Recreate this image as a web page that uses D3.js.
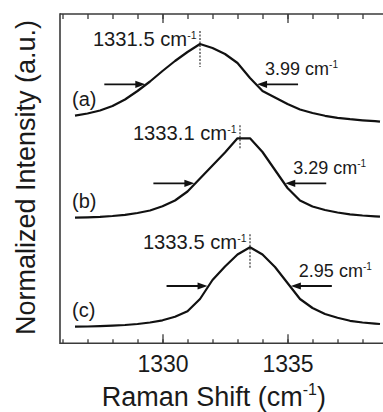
<!DOCTYPE html>
<html>
<head>
<meta charset="utf-8">
<script src="https://cdn.jsdelivr.net/npm/d3@7"></script>
<style>
  html, body { margin: 0; padding: 0; background: #fff; }
  svg { display: block; }
  text { font-family: "Liberation Sans", Arial, Helvetica, sans-serif; fill: #1a1a1a; }
</style>
</head>
<body>
<svg id="chart" width="383" height="412"></svg>
<script>
// Raman shift sampling (cm^-1)
const wavenumber = [1326.5, 1327, 1327.5, 1328, 1328.5, 1329, 1329.5, 1330, 1330.5, 1331,
  1331.5, 1332, 1332.5, 1333, 1333.5, 1334, 1334.5, 1335, 1335.5, 1336,
  1336.5, 1337, 1337.5, 1338, 1338.5, 1338.7];

// Normalized intensities, stacked with vertical offsets
const spectrumA = [2.276, 2.298, 2.328, 2.373, 2.438, 2.523, 2.618, 2.723, 2.823, 2.913,
  2.993, 2.953, 2.893, 2.803, 2.653, 2.523, 2.458, 2.393, 2.338, 2.303,
  2.275, 2.255, 2.241, 2.230, 2.221, 2.216];
const spectrumB = [1.256, 1.260, 1.265, 1.273, 1.285, 1.303, 1.328, 1.370, 1.428, 1.518,
  1.648, 1.778, 1.908, 2.050, 2.050, 1.913, 1.733, 1.553, 1.428, 1.368,
  1.333, 1.308, 1.290, 1.278, 1.270, 1.266];
const spectrumC = [0.166, 0.168, 0.171, 0.176, 0.183, 0.193, 0.208, 0.230, 0.265, 0.320,
  0.443, 0.633, 0.768, 0.888, 0.960, 0.888, 0.763, 0.603, 0.443, 0.353,
  0.293, 0.255, 0.225, 0.208, 0.197, 0.193];

const seriesLabels = ["(a)", "(b)", "(c)"];
const peakPositions = [1331.5, 1333.1, 1333.5];   // cm^-1
const fwhmValues = [3.99, 3.29, 2.95];            // cm^-1
const halfMaxLevels = [2.59, 1.60, 0.573];        // arrow height on each trace

const minorTicks = d3.range(1326, 1340, 1);
const majorTicks = [1330, 1335];

const spectra = [spectrumA, spectrumB, spectrumC];

const svg = d3.select("#chart");
const font = '"Liberation Sans", Arial, Helvetica, sans-serif';

const x = d3.scaleLinear().domain([1325.9, 1339.5]).range([60, 400]);
const y = d3.scaleLinear().domain([0, 3.293]).range([343.3, 14]);

const axisColor = "#3a3a3a";

// Frame: bottom and top axes with inward ticks, plain left spine
function styleAxis(g) {
  g.select(".domain").remove();
  g.selectAll(".tick line").attr("stroke", axisColor).attr("stroke-width", 1.3);
}

svg.append("g")
  .attr("transform", `translate(0,${y(0)})`)
  .call(d3.axisBottom(x).tickValues(minorTicks).tickSizeInner(-4).tickSizeOuter(0).tickFormat(""))
  .call(styleAxis);
svg.append("g")
  .attr("transform", `translate(0,${y(0)})`)
  .call(d3.axisBottom(x).tickValues(majorTicks).tickSizeInner(-9).tickSizeOuter(0).tickFormat(d3.format("d")))
  .call(styleAxis)
  .call(g => g.selectAll(".tick text")
    .attr("font-family", font).attr("font-size", 23).attr("fill", "#1a1a1a")
    .attr("dy", 0).attr("y", 28.7));

svg.append("g")
  .attr("transform", `translate(0,${y.range()[1]})`)
  .call(d3.axisTop(x).tickValues(minorTicks).tickSizeInner(-5).tickSizeOuter(0).tickFormat(""))
  .call(styleAxis);
svg.append("g")
  .attr("transform", `translate(0,${y.range()[1]})`)
  .call(d3.axisTop(x).tickValues(majorTicks).tickSizeInner(-9).tickSizeOuter(0).tickFormat(""))
  .call(styleAxis);

const [xl, xr] = x.range();
svg.append("line").attr("x1", xl).attr("x2", xr).attr("y1", y(0)).attr("y2", y(0))
  .attr("stroke", axisColor).attr("stroke-width", 1.6);
svg.append("line").attr("x1", xl).attr("x2", xr).attr("y1", y.range()[1]).attr("y2", y.range()[1])
  .attr("stroke", axisColor).attr("stroke-width", 1.6);
svg.append("line").attr("x1", xl).attr("x2", xl).attr("y1", y.range()[1] - 0.8).attr("y2", y(0) + 0.8)
  .attr("stroke", axisColor).attr("stroke-width", 1.6);

// Spectra
const line = d3.line().x((d, i) => x(wavenumber[i])).y(d => y(d));
spectra.forEach(s => {
  svg.append("path").datum(s)
    .attr("d", line)
    .attr("fill", "none")
    .attr("stroke", "#111")
    .attr("stroke-width", 2.2)
    .attr("stroke-linejoin", "round");
});

// Where a trace crosses a given level, searching outward from its peak
function crossing(s, level, dir) {
  const iMax = d3.maxIndex(s);
  for (let i = iMax; i + dir >= 0 && i + dir < s.length; i += dir) {
    const a = s[i], b = s[i + dir];
    if ((a - level) * (b - level) <= 0) {
      const t = (a - level) / (a - b);
      return wavenumber[i] + t * (wavenumber[i + dir] - wavenumber[i]);
    }
  }
  return wavenumber[iMax];
}

function arrow(tipX, tipY, fromX) {
  const dir = Math.sign(tipX - fromX);
  const headLen = 10, headHalf = 3.6;
  svg.append("line")
    .attr("x1", fromX).attr("x2", tipX - dir * (headLen - 1))
    .attr("y1", tipY).attr("y2", tipY)
    .attr("stroke", "#111").attr("stroke-width", 1.8);
  svg.append("path")
    .attr("d", `M${tipX},${tipY}L${tipX - dir * headLen},${tipY - headHalf}L${tipX - dir * headLen},${tipY + headHalf}Z`)
    .attr("fill", "#111");
}

function withUnit(g, main, supSize, supShift) {
  g.append("tspan").text(main);
  g.append("tspan").text("-1").attr("font-size", supSize).attr("dy", supShift);
}

const dashReach = [23, 10, 21];
const arrowLen = 41;

spectra.forEach((s, k) => {
  const peakPx = x(peakPositions[k]);
  const topPx = y(d3.max(s));

  // dashed marker at the peak position
  svg.append("line")
    .attr("x1", peakPx).attr("x2", peakPx)
    .attr("y1", topPx - 13).attr("y2", topPx + dashReach[k])
    .attr("stroke", "#222").attr("stroke-width", 1.1)
    .attr("stroke-dasharray", "2,1.5");

  // peak position label
  const pl = svg.append("text")
    .attr("x", peakPx - 3.5).attr("y", topPx + 2)
    .attr("text-anchor", "end")
    .attr("font-size", 20.2);
  withUnit(pl, `${peakPositions[k].toFixed(1)} cm`, 10.5, -7.5);

  // FWHM arrows at half maximum
  const level = halfMaxLevels[k];
  const ly = y(level);
  const leftTip = x(crossing(s, level, -1)) - 1;
  const rightTip = x(crossing(s, level, 1)) + 1;
  arrow(leftTip, ly, leftTip - arrowLen);
  arrow(rightTip, ly, rightTip + arrowLen);

  const fl = svg.append("text")
    .attr("x", rightTip + 8).attr("y", ly - 9.5)
    .attr("font-size", 18);
  withUnit(fl, `${fwhmValues[k].toFixed(2)} cm`, 10, -7);

  // trace letter
  svg.append("text")
    .attr("x", 72).attr("y", y(s[0]) - 10)
    .attr("font-size", 20)
    .text(seriesLabels[k]);
});

// Axis titles
const xt = svg.append("text")
  .attr("x", 101.7).attr("y", 405.5)
  .attr("font-size", 27);
xt.append("tspan").text("Raman Shift (cm");
xt.append("tspan").text("-1").attr("font-size", 16).attr("dy", -11);
xt.append("tspan").text(")").attr("dy", 11);

svg.append("text")
  .attr("transform", "translate(35,177.5) rotate(-90)")
  .attr("text-anchor", "middle")
  .attr("font-size", 27)
  .text("Normalized Intensity (a.u.)");
</script>
</body>
</html>
